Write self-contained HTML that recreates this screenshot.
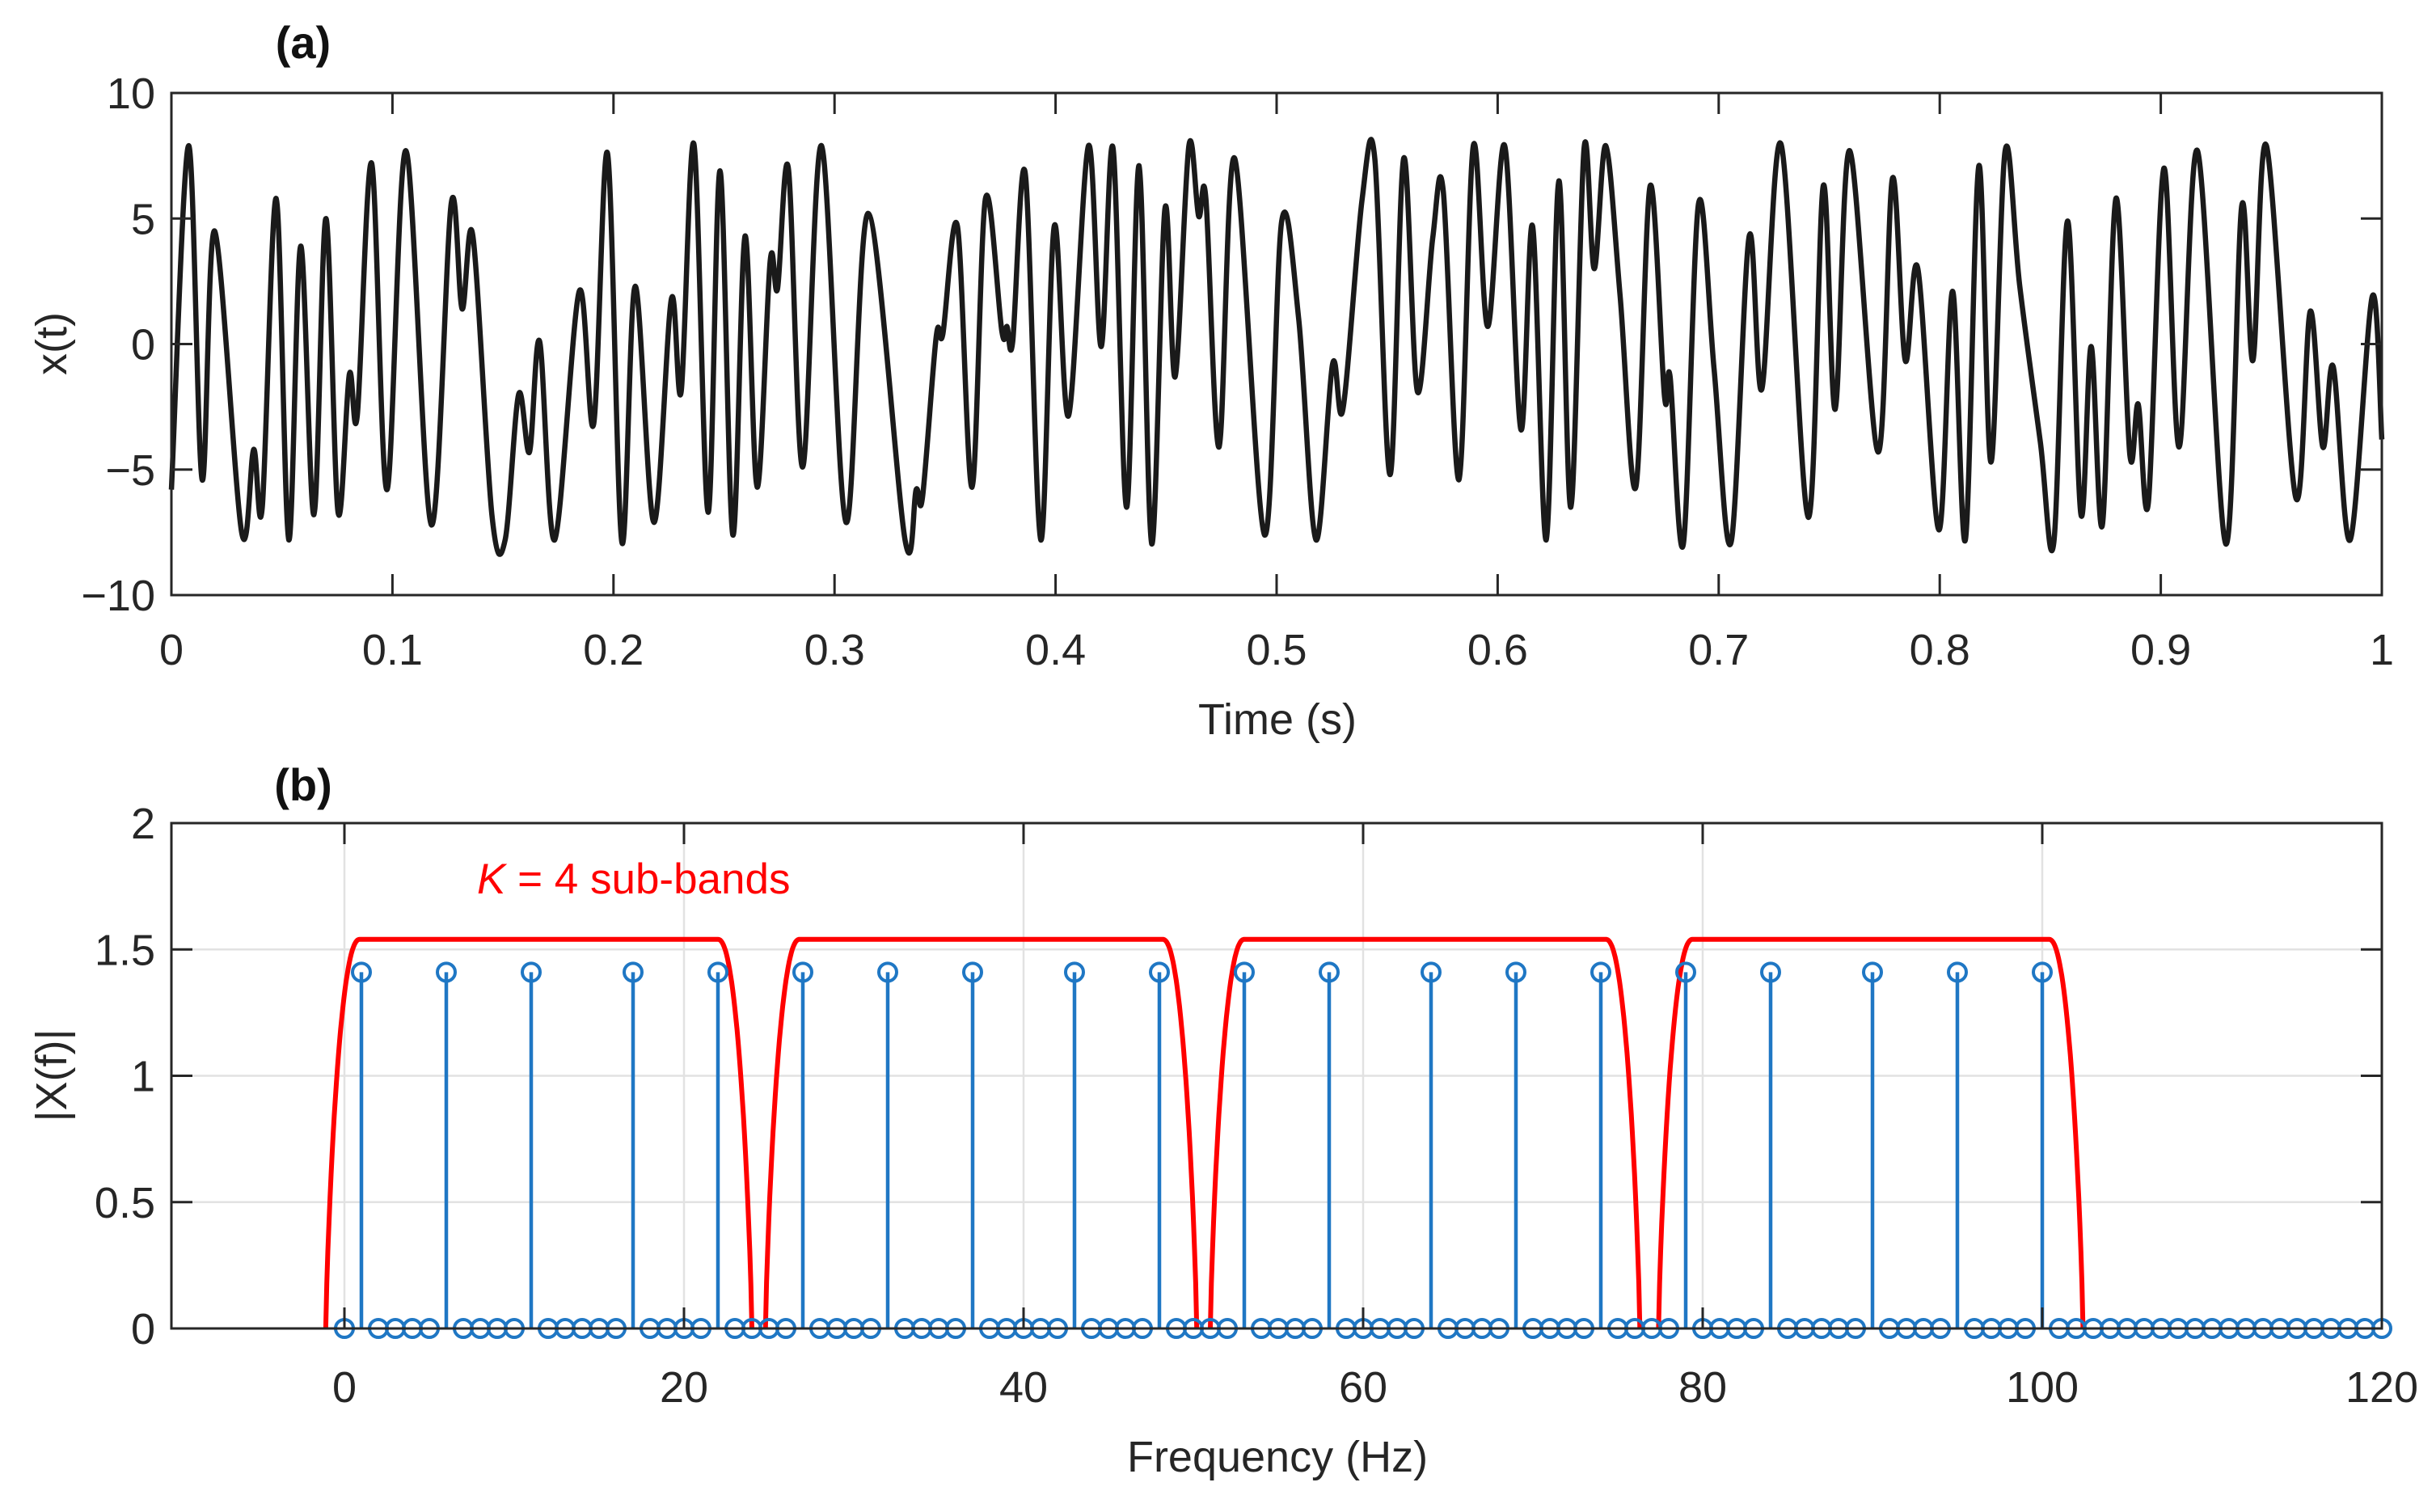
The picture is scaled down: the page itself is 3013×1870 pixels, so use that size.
<!DOCTYPE html>
<html><head><meta charset="utf-8"><style>
html,body{margin:0;padding:0;background:#fff;}
svg{display:block;font-family:"Liberation Sans",Arial,sans-serif;}
</style></head><body>
<svg id="fig" width="3013" height="1870" viewBox="0 0 3013 1870" xmlns="http://www.w3.org/2000/svg">
<rect width="3013" height="1870" fill="#fff"/>
<g id="pa"></g>
<g id="pb"></g>
</svg>
<script>
// ---------- Panel (a) data: time-domain signal extrema ----------
const sigT = [0,0.0078,0.0139,0.0196,0.0318,0.0372,0.0411,0.0474,0.0531,0.0585,0.0645,0.0699,0.0754,0.0805,0.0841,0.0906,0.0975,0.1061,0.1176,0.1266,0.1315,0.1364,0.145,0.151,0.1571,0.162,0.1666,0.1734,0.1845,0.191,0.1973,0.2038,0.2098,0.2183,0.2262,0.2306,0.2364,0.2428,0.2482,0.2540,0.2595,0.2650,0.2709,0.2742,0.2791,0.2856,0.2941,0.3052,0.3153,0.3319,0.3369,0.3398,0.3460,0.3490,0.3556,0.3622,0.3683,0.3757,0.3780,0.3806,0.3863,0.3933,0.3994,0.4059,0.4149,0.4206,0.4260,0.4321,0.4378,0.4435,0.4495,0.4541,0.4603,0.4647,0.4680,0.4740,0.4810,0.4945,0.5023,0.5100,0.5178,0.5253,0.5300,0.5386,0.5444,0.5513,0.5575,0.5637,0.5706,0.5754,0.5825,0.5890,0.5955,0.6032,0.6105,0.6158,0.6220,0.6277,0.6331,0.6391,0.6437,0.6489,0.6554,0.6625,0.6690,0.6755,0.6780,0.6840,0.6909,0.6979,0.7056,0.7138,0.7195,0.7282,0.7405,0.7473,0.7527,0.7593,0.7721,0.7786,0.7844,0.7901,0.7996,0.8058,0.8116,0.8177,0.8232,0.8296,0.8362,0.8455,0.8516,0.8578,0.8639,0.8685,0.8736,0.8797,0.8860,0.8898,0.8944,0.9014,0.9083,0.9166,0.9294,0.9366,0.9417,0.9478,0.9610,0.9676,0.9733,0.9780,0.9857,0.9957,1.0];
const sigV = [-5.8,7.9,-5.4,4.5,-7.5,-4.2,-6.5,5.8,-7.8,3.9,-6.8,5.0,-6.7,-1.2,-2.85,7.2,-5.8,7.7,-7.2,5.6,1.4,4.3,-6.8,-7.8,-2.0,-4.3,0.1,-7.8,2.1,-3.2,7.6,-7.9,2.3,-7.1,1.8,-1.9,7.96,-6.7,6.9,-7.6,4.3,-5.7,3.3,2.2,7.0,-4.9,7.9,-7.1,5.2,-7.8,-5.8,-6.1,0.3,0.4,4.7,-5.7,5.8,0.5,0.7,0.1,6.8,-7.8,4.7,-2.85,7.9,-0.1,7.8,-6.5,7.1,-7.96,5.4,-1.3,7.9,5.1,5.8,-4.1,7.4,-7.6,4.9,1.0,-7.8,-0.8,-2.6,5.7,7.4,-5.2,7.4,-1.9,4.2,6.1,-5.4,7.9,0.7,7.9,-3.4,4.7,-7.8,6.5,-6.5,7.8,3.0,7.9,1.9,-5.7,6.3,-2.1,-1.3,-7.96,5.6,-1.0,-7.9,4.3,-1.8,7.96,-6.9,6.3,-2.6,7.7,-4.3,6.6,-0.65,3.0,-7.4,2.1,-7.8,7.1,-4.7,7.7,2.3,-3.9,-7.9,4.9,-6.8,-0.1,-7.2,5.8,-4.4,-2.4,-6.3,7.0,-4.1,7.7,-7.96,5.5,-0.65,7.9,-6.1,1.3,-4.1,-0.9,-7.8,1.9,-3.8];
const aXTicks = [0,0.1,0.2,0.3,0.4,0.5,0.6,0.7,0.8,0.9,1];
const aXTickLabels = ["0","0.1","0.2","0.3","0.4","0.5","0.6","0.7","0.8","0.9","1"];
const aYTicks = [-10,-5,0,5,10];
const aYTickLabels = ["\u221210","\u22125","0","5","10"];

// ---------- Panel (b) data: spectrum ----------
const stemFreqs = [1,6,11,17,22,27,32,37,43,48,53,58,64,69,74,79,84,90,95,100];
const stemMag = [1.41,1.41,1.41,1.41,1.41,1.41,1.41,1.41,1.41,1.41,1.41,1.41,1.41,1.41,1.41,1.41,1.41,1.41,1.41,1.41];
const zeroFreqMax = 120;
const bandStarts = [-1.1,24.8,51.0,77.4];
const bandEnds = [24.0,50.2,76.3,102.4];
const bandLevel = 1.54;
const bXTicks = [0,20,40,60,80,100,120];
const bXTickLabels = ["0","20","40","60","80","100","120"];
const bYTicks = [0,0.5,1,1.5,2];
const bYTickLabels = ["0","0.5","1","1.5","2"];

const NS = "http://www.w3.org/2000/svg";
function mk(tag, attrs, parent){const e=document.createElementNS(NS,tag);for(const k in attrs)e.setAttribute(k,attrs[k]);parent.appendChild(e);return e;}

const L=212,R=2946;
const aTop=115,aBot=736;
const ax=t=>L+(t-0)/(1-0)*(R-L);
const ay=v=>aBot-(v+10)/20*(aBot-aTop);
const bTop=1018,bBot=1643;
const bx=f=>426+f*21.0;
const by=m=>bBot-m/2*(bBot-bTop);

const pa=document.getElementById('pa');
const pb=document.getElementById('pb');
const AX="#262626";

// ===== Panel a =====
let pts=sigT.map((t,i)=>[ax(t),ay(sigV[i])]);
let d="M"+pts[0][0].toFixed(1)+","+pts[0][1].toFixed(1);
for(let i=0;i<pts.length-1;i++){
  const p0=pts[Math.max(0,i-1)],p1=pts[i],p2=pts[i+1],p3=pts[Math.min(pts.length-1,i+2)];
  const c1=[p1[0]+(p2[0]-p0[0])/6,p1[1]+(p2[1]-p0[1])/6];
  const c2=[p2[0]-(p3[0]-p1[0])/6,p2[1]-(p3[1]-p1[1])/6];
  d+=" C"+c1[0].toFixed(1)+","+c1[1].toFixed(1)+" "+c2[0].toFixed(1)+","+c2[1].toFixed(1)+" "+p2[0].toFixed(1)+","+p2[1].toFixed(1);
}
const sig=mk('path',{d:d,fill:'none',stroke:'#1a1a1a','stroke-width':6.5,'stroke-linejoin':'round'},pa);



const boxA=mk('rect',{x:L,y:aTop,width:R-L,height:aBot-aTop,fill:'none',stroke:AX,'stroke-width':3},pa);


aXTicks.forEach((t,i)=>{
  const x=ax(t);
  mk('line',{x1:x,y1:aBot,x2:x,y2:aBot-26,stroke:AX,'stroke-width':3},pa);
  mk('line',{x1:x,y1:aTop,x2:x,y2:aTop+26,stroke:AX,'stroke-width':3},pa);
  const tx=mk('text',{x:x,y:822,'font-size':54,'text-anchor':'middle',fill:'#262626'},pa);
  tx.textContent=aXTickLabels[i];
  
  
});
aYTicks.forEach((v,i)=>{
  const y=ay(v);
  mk('line',{x1:L,y1:y,x2:L+26,y2:y,stroke:AX,'stroke-width':3},pa);
  mk('line',{x1:R,y1:y,x2:R-26,y2:y,stroke:AX,'stroke-width':3},pa);
  const tx=mk('text',{x:192,y:y+19,'font-size':54,'text-anchor':'end',fill:'#262626'},pa);
  tx.textContent=aYTickLabels[i];
  
  
});
let t1=mk('text',{x:1580,y:908,'font-size':54,'text-anchor':'middle',fill:'#262626'},pa);
t1.textContent="Time (s)";


let t2=mk('text',{x:0,y:0,'font-size':54,'text-anchor':'middle',fill:'#262626',transform:'translate(82,425) rotate(-90)'},pa);
t2.textContent="x(t)";


let t3=mk('text',{x:375,y:72,'font-size':56,'font-weight':'bold','text-anchor':'middle',fill:'#111'},pa);
t3.textContent="(a)";



// ===== Panel b =====
bXTicks.forEach(f=>{
  const g=mk('line',{x1:bx(f),y1:bTop,x2:bx(f),y2:bBot,stroke:'#e2e2e2','stroke-width':2.5},pb);
  
  
});
bYTicks.forEach(m=>{
  const g=mk('line',{x1:L,y1:by(m),x2:R,y2:by(m),stroke:'#e2e2e2','stroke-width':2.5},pb);
  
  
});
bandStarts.forEach((s,k)=>{
  const e=bandEnds[k];
  const D=2.0;
  let dd="";
  const N=400;
  for(let j=0;j<=N;j++){
    const f=s+(e-s)*j/N;
    const dist=Math.min(f-s,e-f);
    const r=Math.min(dist/D,1);
    const m=bandLevel*Math.pow(1-Math.pow(1-r,2.2),0.8)*(r<1?1:1);
    dd+=(j?" L":"M")+bx(f).toFixed(1)+","+by(m).toFixed(1);
  }
  const p=mk('path',{d:dd,fill:'none',stroke:'#ff0000','stroke-width':6,'stroke-linejoin':'round'},pb);
  
  
});
const BL="#1f77c4";
for(let f=0;f<=zeroFreqMax;f++){
  const idx=stemFreqs.indexOf(f);
  const m=idx>=0?stemMag[idx]:0;
  if(idx>=0){
    const st=mk('line',{x1:bx(f),y1:by(0),x2:bx(f),y2:by(m),stroke:BL,'stroke-width':4.5},pb);
    
    
  }
  const c=mk('circle',{cx:bx(f),cy:by(m),r:11,fill:'none',stroke:BL,'stroke-width':4},pb);
  
  
}
const boxB=mk('rect',{x:L,y:bTop,width:R-L,height:bBot-bTop,fill:'none',stroke:AX,'stroke-width':3},pb);


bXTicks.forEach((f,i)=>{
  const x=bx(f);
  mk('line',{x1:x,y1:bBot,x2:x,y2:bBot-26,stroke:AX,'stroke-width':3},pb);
  mk('line',{x1:x,y1:bTop,x2:x,y2:bTop+26,stroke:AX,'stroke-width':3},pb);
  const tx=mk('text',{x:x,y:1734,'font-size':54,'text-anchor':'middle',fill:'#262626'},pb);
  tx.textContent=bXTickLabels[i];
  
  
});
bYTicks.forEach((m,i)=>{
  const y=by(m);
  mk('line',{x1:L,y1:y,x2:L+26,y2:y,stroke:AX,'stroke-width':3},pb);
  mk('line',{x1:R,y1:y,x2:R-26,y2:y,stroke:AX,'stroke-width':3},pb);
  const tx=mk('text',{x:192,y:y+19,'font-size':54,'text-anchor':'end',fill:'#262626'},pb);
  tx.textContent=bYTickLabels[i];
  
  
});
let b1=mk('text',{x:1580,y:1820,'font-size':54,'text-anchor':'middle',fill:'#262626'},pb);
b1.textContent="Frequency (Hz)";


let b2=mk('text',{x:0,y:0,'font-size':54,'text-anchor':'middle',fill:'#262626',transform:'translate(82,1330) rotate(-90)'},pb);
b2.textContent="|X(f)|";


let b3=mk('text',{x:375,y:990,'font-size':56,'font-weight':'bold','text-anchor':'middle',fill:'#111'},pb);
b3.textContent="(b)";


let b4=mk('text',{x:590,y:1105,'font-size':53,fill:'#ff0000'},pb);
b4.innerHTML='<tspan font-style="italic">K</tspan> = 4 sub-bands';


</script>
</body></html>
